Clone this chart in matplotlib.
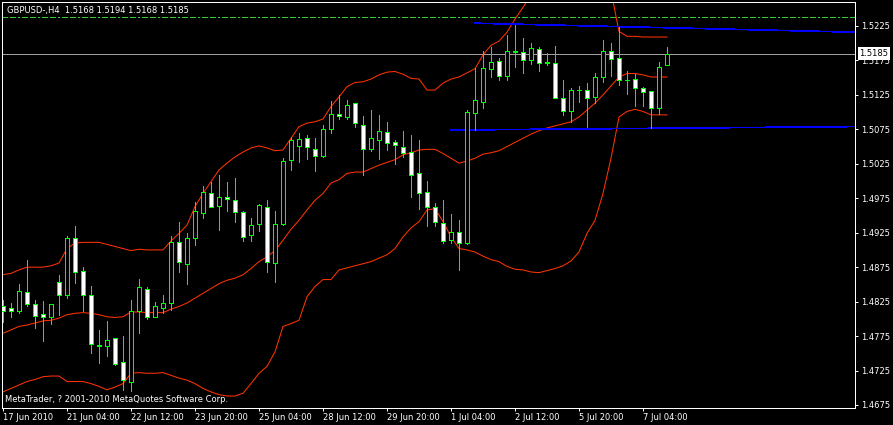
import matplotlib.pyplot as plt
from matplotlib.patches import Rectangle
from matplotlib.transforms import blended_transform_factory

# GBPUSD H4 candles, 84 bars
symbol = 'GBPUSD-,H4'
opens = [1.4818, 1.4816, 1.4811, 1.4839, 1.4821, 1.4807, 1.4803, 1.4853, 1.4834, 1.4917,
         1.4869, 1.4834, 1.4762, 1.4761, 1.4772, 1.4737, 1.4709, 1.4812, 1.4844, 1.4803,
         1.4816, 1.4823, 1.4912, 1.4879, 1.4917, 1.4954, 1.4982, 1.4964, 1.4977, 1.4973,
         1.4955, 1.4921, 1.4937, 1.4963, 1.4881, 1.4938, 1.5030, 1.5051, 1.5062, 1.5046,
         1.5037, 1.5075, 1.5097, 1.5093, 1.5113, 1.5082, 1.5046, 1.5060, 1.5071, 1.5057,
         1.5050, 1.5042, 1.5011, 1.4984, 1.4962, 1.4939, 1.4915, 1.4926, 1.4910, 1.5099,
         1.5115, 1.5162, 1.5174, 1.5153, 1.5188, 1.5187, 1.5175, 1.5191, 1.5173, 1.5172,
         1.5121, 1.5101, 1.5132, 1.5132, 1.5122, 1.5151, 1.5188, 1.5178, 1.5147, 1.5148,
         1.5135, 1.5130, 1.5106, 1.5168]
highs = [1.4827, 1.4823, 1.4850, 1.4886, 1.4827, 1.4826, 1.4822, 1.4864, 1.4920, 1.4935,
         1.4875, 1.4848, 1.4784, 1.4797, 1.4772, 1.4775, 1.4827, 1.4858, 1.4846, 1.4825,
         1.4835, 1.4920, 1.4940, 1.4924, 1.4970, 1.4993, 1.4998, 1.5009, 1.4998, 1.5004,
         1.4957, 1.4946, 1.4967, 1.4972, 1.4956, 1.5034, 1.5064, 1.5069, 1.5067, 1.5063,
         1.5082, 1.5116, 1.5125, 1.5118, 1.5113, 1.5094, 1.5103, 1.5096, 1.5085, 1.5060,
         1.5072, 1.5067, 1.5060, 1.5000, 1.4968, 1.4972, 1.4952, 1.4943, 1.5103, 1.5164,
         1.5188, 1.5195, 1.5178, 1.5212, 1.5226, 1.5207, 1.5201, 1.5194, 1.5186, 1.5196,
         1.5147, 1.5135, 1.5138, 1.5142, 1.5157, 1.5205, 1.5201, 1.5224, 1.5160, 1.5156,
         1.5137, 1.5131, 1.5173, 1.5194]
lows = [1.4795, 1.4803, 1.4808, 1.4818, 1.4787, 1.4768, 1.4792, 1.4806, 1.4830, 1.4852,
        1.4811, 1.4751, 1.4736, 1.4746, 1.4733, 1.4697, 1.4695, 1.4780, 1.4800, 1.4803,
        1.4809, 1.4813, 1.4868, 1.4850, 1.4907, 1.4946, 1.4962, 1.4929, 1.4957, 1.4941,
        1.4913, 1.4913, 1.4928, 1.4868, 1.4853, 1.4936, 1.5016, 1.5028, 1.5032, 1.5014,
        1.5035, 1.5070, 1.5090, 1.5090, 1.5078, 1.5009, 1.5043, 1.5032, 1.5045, 1.5025,
        1.5035, 1.4977, 1.4960, 1.4934, 1.4934, 1.4910, 1.4910, 1.4871, 1.4909, 1.5074,
        1.5106, 1.5151, 1.5147, 1.5146, 1.5166, 1.5157, 1.5170, 1.5160, 1.5168, 1.5120,
        1.5096, 1.5086, 1.5115, 1.5078, 1.5113, 1.5144, 1.5152, 1.5139, 1.5127, 1.5109,
        1.5109, 1.5077, 1.5097, 1.5168]
closes = [1.4811, 1.4812, 1.4840, 1.4822, 1.4804, 1.4802, 1.4821, 1.4834, 1.4917, 1.4868,
          1.4834, 1.4764, 1.4760, 1.4770, 1.4735, 1.4711, 1.4812, 1.4846, 1.4803, 1.4818,
          1.4823, 1.4911, 1.4882, 1.4917, 1.4956, 1.4984, 1.4963, 1.4977, 1.4974, 1.4955,
          1.4919, 1.4936, 1.4965, 1.4882, 1.4937, 1.5029, 1.5060, 1.5061, 1.5049, 1.5036,
          1.5075, 1.5097, 1.5094, 1.5111, 1.5084, 1.5047, 1.5062, 1.5073, 1.5055, 1.5052,
          1.5040, 1.5009, 1.4983, 1.4963, 1.4940, 1.4913, 1.4926, 1.4910, 1.5100, 1.5118,
          1.5164, 1.5173, 1.5152, 1.5188, 1.5187, 1.5176, 1.5193, 1.5172, 1.5172, 1.5121,
          1.5102, 1.5132, 1.5132, 1.5120, 1.5151, 1.5189, 1.5177, 1.5147, 1.5147, 1.5135,
          1.5129, 1.5106, 1.5165, 1.5185]

# Bollinger bands as shown on the chart
bb_upper = [1.4864, 1.4866, 1.4871, 1.4875, 1.4875, 1.4875, 1.4877, 1.4881, 1.4902, 1.4910,
            1.4911, 1.4911, 1.4911, 1.4908, 1.4905, 1.4902, 1.4899, 1.4901, 1.4900, 1.4900,
            1.4900, 1.4913, 1.4924, 1.4936, 1.4963, 1.4982, 1.4999, 1.5016, 1.5026, 1.5035,
            1.5042, 1.5048, 1.5051, 1.5048, 1.5044, 1.5045, 1.5062, 1.5079, 1.5084, 1.5086,
            1.5090, 1.5108, 1.5122, 1.5137, 1.5143, 1.5144, 1.5148, 1.5154, 1.5158, 1.5159,
            1.5155, 1.5149, 1.5148, 1.5132, 1.5132, 1.5142, 1.5148, 1.5151, 1.5157, 1.5163,
            1.5183, 1.5197, 1.5203, 1.5216, 1.5235, 1.5252, 1.5270, 1.5283, 1.5292, 1.5298,
            1.5300, 1.5302, 1.5300, 1.5298, 1.5292, 1.5285, 1.5276, 1.5217, 1.5210, 1.5210,
            1.5209, 1.5209, 1.5209, 1.5209]
bb_mid = [1.4779, 1.4784, 1.4789, 1.4791, 1.4794, 1.4797, 1.4798, 1.4801, 1.4806, 1.4808,
          1.4809, 1.4808, 1.4806, 1.4803, 1.4802, 1.4803, 1.4810, 1.4810, 1.4809, 1.4809,
          1.4809, 1.4814, 1.4818, 1.4823, 1.4830, 1.4837, 1.4844, 1.4851, 1.4856, 1.4859,
          1.4864, 1.4873, 1.4883, 1.4890, 1.4899, 1.4914, 1.4930, 1.4943, 1.4958, 1.4972,
          1.4982, 1.4997, 1.5002, 1.5011, 1.5013, 1.5013, 1.5018, 1.5023, 1.5027, 1.5031,
          1.5038, 1.5041, 1.5045, 1.5046, 1.5046, 1.5040, 1.5033, 1.5026, 1.5029, 1.5033,
          1.5039, 1.5041, 1.5044, 1.5050, 1.5056, 1.5062, 1.5068, 1.5073, 1.5077, 1.5080,
          1.5083, 1.5086, 1.5093, 1.5103, 1.5113, 1.5125, 1.5138, 1.5151, 1.5156, 1.5156,
          1.5154, 1.5151, 1.5151, 1.5151]
bb_lower = [1.4694, 1.4699, 1.4704, 1.4709, 1.4712, 1.4716, 1.4717, 1.4717, 1.4709, 1.4709,
            1.4709, 1.4706, 1.4702, 1.4697, 1.4701, 1.4706, 1.4721, 1.4722, 1.4721, 1.4721,
            1.4722, 1.4718, 1.4714, 1.4711, 1.4706, 1.4699, 1.4694, 1.4690, 1.4688, 1.4688,
            1.4692, 1.4706, 1.4721, 1.4731, 1.4752, 1.4789, 1.4793, 1.4798, 1.4832, 1.4847,
            1.4857, 1.4857, 1.4871, 1.4874, 1.4877, 1.4880, 1.4883, 1.4888, 1.4893, 1.4902,
            1.4919, 1.4932, 1.4941, 1.4958, 1.4960, 1.4941, 1.4919, 1.4902, 1.4900, 1.4897,
            1.4891, 1.4886, 1.4883, 1.4876, 1.4872, 1.4871, 1.4868, 1.4867, 1.4870, 1.4873,
            1.4877, 1.4884, 1.4897, 1.4924, 1.4943, 1.4982, 1.5033, 1.5093, 1.5101, 1.5104,
            1.5101, 1.5096, 1.5096, 1.5096]

# trend lines (bar index, price) and a horizontal level
resistance = [(59, 1.5229), (106.5, 1.5216)]
support = [(56, 1.5074), (106.5, 1.5079)]
level = 1.5238

time_ticks = [0, 8, 16, 24, 32, 40, 48, 56, 64, 72, 80]
time_labels = ['17 Jun 2010', '21 Jun 04:00', '22 Jun 12:00', '23 Jun 20:00', '25 Jun 04:00',
               '28 Jun 12:00', '29 Jun 20:00', '1 Jul 04:00', '2 Jul 12:00', '5 Jul 20:00',
               '7 Jul 04:00']
price_ticks = [1.4675, 1.4725, 1.4775, 1.4825, 1.4875, 1.4925, 1.4975,
               1.5025, 1.5075, 1.5125, 1.5175, 1.5225]

W, H = 893, 425
PX = 72 / 100  # one pixel in points
THIN = 0.5     # aliased lines come out 1px at this width
fig = plt.figure(figsize=(W / 100, H / 100), dpi=100, facecolor='black')
ax = fig.add_axes([2 / W, 1 - 408 / H, 853 / W, 406 / H], facecolor='black')
ax.set_xlim(-0.125, 106.5)
ax.set_ylim(1.46706, 1.52598)

green = '#00ff00'
for i in range(len(opens)):
    o, h, l, c = opens[i], highs[i], lows[i], closes[i]
    ax.vlines(i, l, h, color=green, lw=PX, antialiased=False, zorder=3)
    fill = 'white' if c < o else 'black'
    ax.add_patch(Rectangle((i - 0.25, min(o, c)), 0.5, abs(c - o), facecolor=fill,
                           edgecolor=green, lw=PX, antialiased=False, zorder=4))

bars = list(range(len(opens)))
for band in (bb_upper, bb_mid, bb_lower):
    ax.plot(bars, band, color='#ff3300', lw=0.75, zorder=2)

for line in (resistance, support):
    ax.plot([p[0] for p in line], [p[1] for p in line], color='#0000ff', lw=THIN,
            antialiased=False, zorder=2)
ax.axhline(level, color='#32cd32', lw=THIN, dashes=(8, 4, 8, 4, 2, 4), antialiased=False)
ax.axhline(closes[-1], color='#a0a0a0', lw=THIN, antialiased=False, zorder=1)

for s in ax.spines.values():
    s.set_color('white')
    s.set_linewidth(PX)

ax.yaxis.tick_right()
ax.set_yticks(price_ticks)
ax.set_yticklabels(['%.4f' % p for p in price_ticks])
ax.set_xticks(time_ticks)
ax.set_xticklabels(time_labels, ha='left')
ax.tick_params(colors='white', labelsize=6, length=3 * PX, width=PX)
ax.tick_params(axis='y', pad=3 * PX)
ax.tick_params(axis='x', pad=2 * PX)

trans = blended_transform_factory(ax.transAxes, ax.transData)
ax.text(1.005, closes[-1], '%.4f' % closes[-1], transform=trans, color='black', fontsize=6,
        va='center', ha='left', bbox=dict(facecolor='white', edgecolor='none', pad=1.2),
        zorder=10, clip_on=False)

fig.text(7 / W, 1 - 10.5 / H, '%s  %.4f %.4f %.4f %.4f' % (symbol, opens[-1], highs[-1],
         lows[-1], closes[-1]), color='white', fontsize=6, va='center', ha='left')
fig.text(5 / W, 1 - 399 / H, 'MetaTrader, ? 2001-2010 MetaQuotes Software Corp.',
         color='white', fontsize=6, va='center', ha='left')

fig.savefig('out.png', dpi=100, facecolor='black')
